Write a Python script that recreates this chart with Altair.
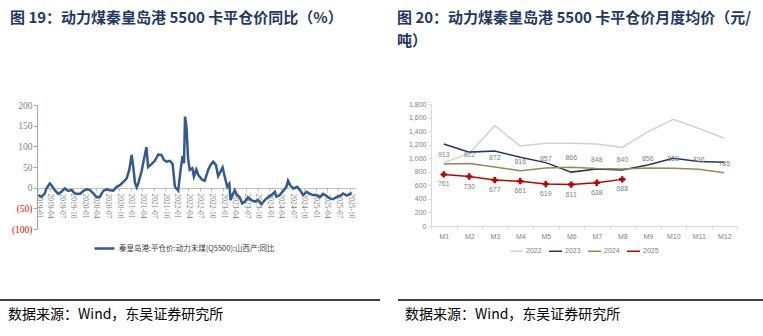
import altair as alt
import pandas as pd

# ---------------- left chart data (YoY %, Qinhuangdao 5500) ----------------
dates_l = [
    "2019-01-01", "2019-01-27", "2019-02-22", "2019-03-06", "2019-04-02", "2019-04-15",
    "2019-05-11", "2019-06-07", "2019-07-03", "2019-07-29", "2019-08-25", "2019-09-21",
    "2019-10-17", "2019-11-26", "2019-12-22", "2020-01-18", "2020-02-14", "2020-03-10",
    "2020-04-06", "2020-05-02", "2020-05-28", "2020-06-24", "2020-07-20", "2020-08-16",
    "2020-09-12", "2020-10-07", "2020-11-03", "2020-11-29", "2020-12-20", "2021-01-08",
    "2021-01-21", "2021-02-03", "2021-02-17", "2021-03-01", "2021-03-27", "2021-04-14",
    "2021-05-05", "2021-05-18", "2021-06-14", "2021-07-10", "2021-08-06", "2021-09-01",
    "2021-09-20", "2021-10-11", "2021-11-06", "2021-11-28", "2021-12-16", "2022-01-11",
    "2022-01-30", "2022-02-15", "2022-02-26", "2022-03-06", "2022-03-17", "2022-03-30",
    "2022-04-12", "2022-05-03", "2022-05-15", "2022-06-03", "2022-06-20", "2022-07-21",
    "2022-08-09", "2022-09-05", "2022-09-24", "2022-10-14", "2022-11-05", "2022-11-23",
    "2022-12-12", "2022-12-28", "2023-01-15", "2023-02-03", "2023-02-19", "2023-03-01",
    "2023-03-16", "2023-04-03", "2023-04-21", "2023-05-12", "2023-06-01", "2023-06-21",
    "2023-07-16", "2023-08-12", "2023-09-08", "2023-10-04", "2023-10-31", "2023-11-27",
    "2023-12-22", "2024-01-18", "2024-02-14", "2024-02-27", "2024-03-24", "2024-04-25",
    "2024-05-15", "2024-05-28", "2024-06-18", "2024-07-13", "2024-08-09", "2024-09-05",
    "2024-09-25", "2024-10-21", "2024-11-17", "2024-12-13", "2025-01-09", "2025-02-05",
    "2025-03-01", "2025-03-28", "2025-04-23", "2025-05-19", "2025-06-15", "2025-07-12",
    "2025-08-07", "2025-09-03", "2025-10-01", "2025-10-13",
]
yoy_l = [
    -18, -22, -14, -2, 10, 6,
    -6, -15, -10, -2, -8, -6,
    -14, -15, -8, -4, -6, -14,
    -23, -22, -8, -4, -6, -7,
    2, 6, 14, 22, 43, 79,
    50, 12, 1, 10, 39, 67,
    98, 50, 57, 65, 80, 79,
    67, 63, 65, 57, 2, -7,
    43, 77, 59, 172, 149, 71,
    43, 47, 27, 44, 30, 19,
    17, 43, 55, 63, 55, 28,
    39, 49, 25, 2, 9, -30,
    -18, -6, -18, -23, -38, -34,
    -24, -30, -34, -30, -40, -30,
    -23, -18, -10, -22, -18, -6,
    2, 17, 4, -2, 2, -8,
    -18, -10, -15, -18, -18, -23,
    -15, -20, -26, -28, -23, -20,
    -14, -19, -15, -12,
]
series_l = "秦皇岛港:平仓价:动力末煤(Q5500):山西产:同比"
y_ticks_l = [-100, -50, 0, 50, 100, 150, 200]

# ---------------- right chart data (monthly average, 元/吨) ----------------
months = ["M1", "M2", "M3", "M4", "M5", "M6", "M7", "M8", "M9", "M10", "M11", "M12"]
years = ["2022", "2023", "2024", "2025"]
v2022 = [935, 1070, 1480, 1180, 1220, 1220, 1210, 1160, 1390, 1575, 1440, 1295]
v2023 = [1210, 1090, 1105, 1015, 935, 795, 840, 825, 900, 1000, 950, 940]
v2024 = [913, 922, 872, 816, 857, 866, 848, 840, 856, 852, 836, 785]
v2025 = [761, 730, 677, 661, 619, 611, 638, 688]
y_ticks_r = [0, 200, 400, 600, 800, 1000, 1200, 1400, 1600, 1800]

title_l = "图 19：动力煤秦皇岛港 5500 卡平仓价同比（%）"
title_r1 = "图 20：动力煤秦皇岛港 5500 卡平仓价月度均价（元/"
title_r2 = "吨）"
source = "数据来源：Wind，东吴证券研究所"

W, H = 763, 336
CJK = "Noto Sans CJK SC"
NAVY = "#1F3864"

# ---------------- left chart ----------------
left_df = pd.DataFrame({"date": dates_l, "yoy": yoy_l, "series": series_l})
tick_dates = []
for yr in range(2019, 2026):
    for mo in (1, 4, 7, 10):
        tick_dates.append(alt.DateTime(year=yr, month=mo, date=1, utc=True))

left = alt.Chart(left_df).mark_line(strokeWidth=2.5).encode(
    x=alt.X(
        "date:T",
        scale=alt.Scale(
            type="utc",
            domain=[alt.DateTime(year=2019, month=1, date=1, utc=True),
                    alt.DateTime(year=2025, month=11, date=15, utc=True)],
            range=[38.3, 355.8],
        ),
        axis=alt.Axis(
            orient="bottom", offset=188 - H, values=tick_dates, format="%Y-%m",
            labelAngle=90, labelFont="Liberation Serif", labelFontSize=7.5,
            labelColor="#7F7F7F", domainColor="#BFBFBF", tickColor="#BFBFBF",
            tickSize=3, labelPadding=2, grid=False, title=None,
            labelOverlap=False, labelFlush=False,
        ),
    ),
    y=alt.Y(
        "yoy:Q",
        scale=alt.Scale(domain=[-100, 200], range=[229, 105], nice=False, zero=False),
        axis=alt.Axis(
            orient="left", offset=-37, values=y_ticks_l,
            labelExpr="datum.value < 0 ? '(' + abs(datum.value) + ')' : datum.value",
            labelColor={"condition": {"test": "datum.value < 0", "value": "#FF0000"},
                        "value": "#7F7F7F"},
            labelFont="Liberation Serif", labelFontSize=9.5, domainColor="#A6A6A6",
            tickColor="#A6A6A6", tickSize=4, labelPadding=1, grid=False, title=None,
        ),
    ),
    color=alt.Color(
        "series:N",
        scale=alt.Scale(domain=[series_l], range=["#335B8E"]),
        legend=alt.Legend(
            orient="none", legendX=93, legendY=237, title=None, symbolType="stroke",
            symbolSize=400, symbolStrokeWidth=2.5, labelFont=CJK, labelFontSize=7.5,
            labelColor="#404040", labelOffset=3, padding=0, labelLimit=400,
        ),
    ),
)

# ---------------- right chart ----------------
rows = []
for yr, vals in zip(years, [v2022, v2023, v2024, v2025]):
    for m, v in zip(months, vals):
        rows.append({"month": m, "year": yr, "value": v})
right_df = pd.DataFrame(rows)

xr = alt.X(
    "month:N", sort=months,
    scale=alt.Scale(domain=months, range=[431, 737], paddingInner=0, paddingOuter=0),
    axis=alt.Axis(
        orient="bottom", offset=226 - H, labelAngle=0, tickBand="extent",
        labelFont="Liberation Sans", labelFontSize=7, labelColor="#7F7F7F",
        domainColor="#D9D9D9", tickColor="#D9D9D9", tickSize=3, labelPadding=3,
        grid=False, title=None,
    ),
)
yr_ = alt.Y(
    "value:Q",
    scale=alt.Scale(domain=[0, 1800], range=[226, 104], nice=False, zero=False),
    axis=alt.Axis(
        orient="left", offset=-431, values=y_ticks_r, format=",.0f",
        labelFont="Liberation Sans", labelFontSize=7, labelColor="#7F7F7F",
        domainColor="#D9D9D9", tickColor="#D9D9D9", tickSize=3, labelPadding=2,
        grid=False, title=None,
    ),
)
color_r = alt.Color(
    "year:N",
    scale=alt.Scale(domain=years, range=["#D0D0D0", NAVY, "#948A54", "#C00000"]),
    legend=alt.Legend(
        orient="none", legendX=509, legendY=243.5, direction="horizontal", title=None,
        symbolType="stroke", symbolSize=169, symbolStrokeWidth=1.5,
        labelFont="Liberation Sans", labelFontSize=7, labelColor="#7F7F7F",
        labelOffset=2, columnPadding=4, padding=0,
    ),
)

base_r = alt.Chart(right_df).encode(x=xr, y=yr_)
lines_r = base_r.mark_line(strokeWidth=1.5).encode(color=color_r)
pts_r = base_r.transform_filter("datum.year == '2025'").mark_point(
    shape="cross", filled=True, size=40, opacity=1
).encode(color=color_r)
lab24 = base_r.transform_filter("datum.year == '2024'").mark_text(
    dy=-9, font="Liberation Sans", fontSize=7, color="#7F7F7F"
).encode(text="value:Q")
lab25 = base_r.transform_filter("datum.year == '2025'").mark_text(
    dy=10, font="Liberation Sans", fontSize=7, color="#7F7F7F"
).encode(text="value:Q")
right = alt.layer(lines_r, pts_r, lab24, lab25)

# ---------------- titles, sources, rules ----------------
one = pd.DataFrame({"k": [0]})


def txt(s, x, y, size, weight="normal", color="black"):
    return alt.Chart(one).mark_text(
        text=s, align="left", baseline="middle", font=CJK, fontSize=size,
        fontWeight=weight, color=color,
    ).encode(x=alt.value(x), y=alt.value(y))


def hrule(x1, x2, y):
    return alt.Chart(one).mark_rule(color="black", strokeWidth=1.5).encode(
        x=alt.value(x1), x2=alt.value(x2), y=alt.value(y)
    )


annos = alt.layer(
    txt(title_l, 10, 18, 15, "bold", NAVY),
    txt(title_r1, 397, 18, 15, "bold", NAVY),
    txt(title_r2, 397, 41, 15, "bold", NAVY),
    hrule(0, 380, 300),
    hrule(398, 763, 300),
    txt(source, 8, 315, 14),
    txt(source, 405, 315, 14),
)

chart = (
    alt.layer(left, right, annos)
    .resolve_scale(x="independent", y="independent", color="independent")
    .resolve_axis(x="independent", y="independent")
    .resolve_legend(color="independent")
    .properties(width=W, height=H, autosize=alt.AutoSizeParams(type="none"), padding=0,
                background="white")
    .configure_view(stroke=None)
)

chart.save("out.html", embed_options={"renderer": "svg", "actions": False})
